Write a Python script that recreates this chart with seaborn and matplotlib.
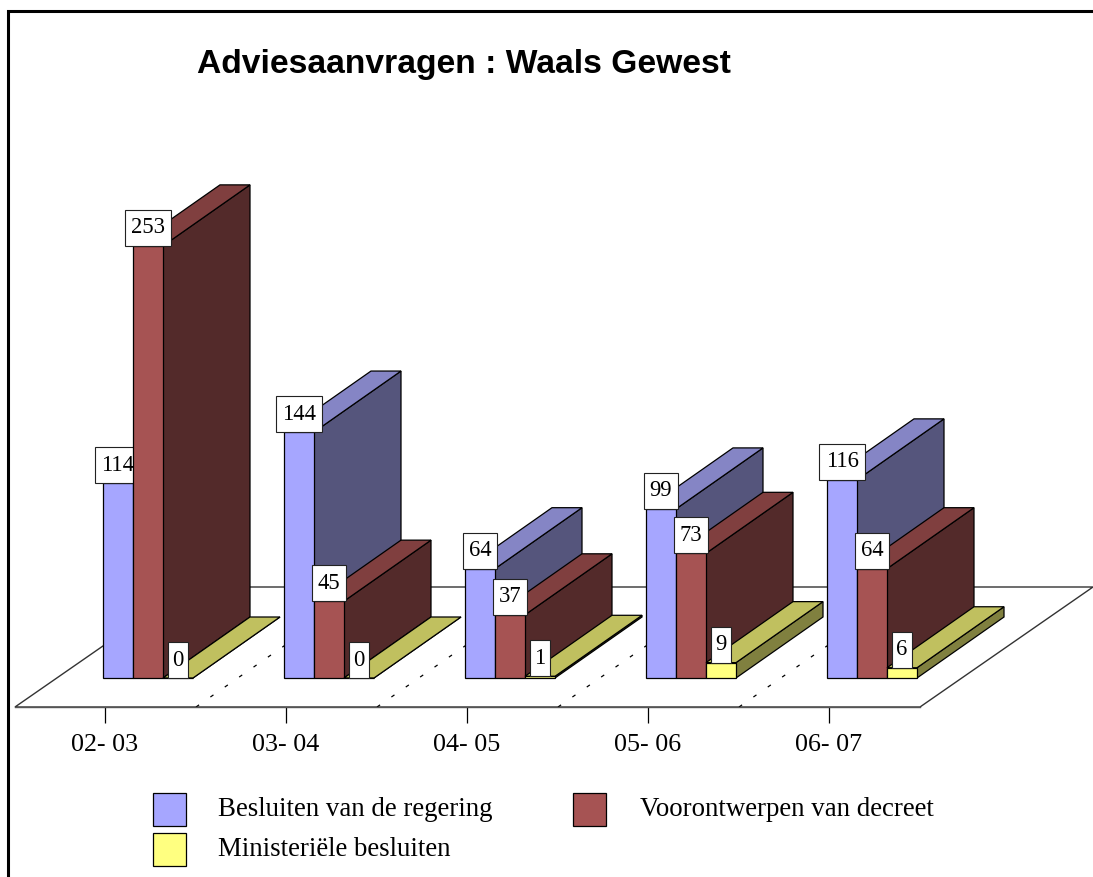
import matplotlib
matplotlib.use("Agg")
import matplotlib.pyplot as plt
from matplotlib.patches import Polygon, Rectangle
import pandas as pd
import seaborn as sns

periods = ["02- 03", "03- 04", "04- 05", "05- 06", "06- 07"]
series_names = ["Besluiten van de regering", "Voorontwerpen van decreet", "Ministeriële besluiten"]
regering = [114, 144, 64, 99, 116]
decreet = [253, 45, 37, 73, 64]
ministerieel = [0, 0, 1, 9, 6]

front_cols = ["#A6A6FF", "#A65353", "#FFFF80"]
side_cols = ["#55557C", "#532A2A", "#80803F"]
top_cols = ["#8585C5", "#803F3F", "#C0C05F"]

W, H = 1093, 877
PX_CAT = 181.0    # pixels per category
PX_VAL = 1.708    # pixels per unit
X0, Y0 = 148.0, 678.0    # where category 0 / value 0 land


def ux(px):
    return px / PX_CAT


def uy(px):
    return px / PX_VAL


df = pd.DataFrame({
    "period": periods * 3,
    "serie": [s for s in series_names for _ in periods],
    "n": regering + decreet + ministerieel,
})

sns.set_style("white")
plt.rcParams["font.family"] = ["Liberation Serif", "DejaVu Serif"]

fig = plt.figure(figsize=(W / 100, H / 100), dpi=100)
ax = fig.add_axes([0, 0, 1, 1])
ax.patch.set_alpha(0)
sns.barplot(data=df, x="period", y="n", hue="serie", hue_order=series_names, order=periods,
            palette=dict(zip(series_names, front_cols)), width=3 * 30 / PX_CAT, gap=0,
            edgecolor="black", linewidth=0.9, saturation=1, ax=ax)
ax.set_xlim(ux(-X0), ux(W - X0))
ax.set_ylim(uy(Y0 - H), uy(Y0))
ax.set_xlabel("")
ax.set_ylabel("")
ax.set_yticks([])

# floor of the fake 3d plot
dx, dy = ux(173), uy(-120)
bx, by = ux(87), uy(-61)
fl, fr = ux(15 - X0), ux(920 - X0)
fb = -uy(707 - Y0)
ax.add_patch(Polygon([(fl, fb), (fr, fb), (fr + dx, fb - dy), (fl + dx, fb - dy)],
                     closed=True, fc="white", ec="#333333", lw=1, zorder=0.5))
for i in range(1, len(periods)):
    xb = fl + i * ux(PX_CAT)
    ax.plot([xb, xb + dx], [fb, fb - dy], color="black", lw=0.9, ls=(0, (3, 11)), zorder=0.6)

# depth faces and value boxes, left to right so that nearer bars overlap
for s, cont in enumerate(ax.containers):
    for g, bar in enumerate(cont):
        x, w, h = bar.get_x(), bar.get_width(), bar.get_height()
        z = 2 + g * 10 + s
        side = [(x + w, 0), (x + w + bx, -by), (x + w + bx, h - by), (x + w, h)]
        top = [(x, h), (x + w, h), (x + w + bx, h - by), (x + bx, h - by)]
        ax.add_patch(Polygon(side, closed=True, fc=side_cols[s], ec="black", lw=0.9, zorder=z))
        ax.add_patch(Polygon(top, closed=True, fc=top_cols[s], ec="black", lw=0.9, zorder=z + 0.1))
        bar.set_zorder(z + 0.2)
        txt = str(int(h))
        bw = ux(8 + 12.8 * len(txt))
        ax.add_patch(Rectangle((x + w / 2 - bw / 2, h), bw, uy(36), fc="white", ec="#222222",
                               lw=0.8, zorder=z + 0.3))
        ax.text(x + w / 2, h + uy(20.5), txt, ha="center", va="center_baseline", fontsize=16.3,
                color="black", zorder=z + 0.4)

# category axis sits on the front edge of the floor
sns.despine(ax=ax, left=True, right=True, top=True)
ax.spines["bottom"].set_position(("data", fb))
ax.spines["bottom"].set_bounds(fl, fr)
ax.spines["bottom"].set_color("#555555")
ax.spines["bottom"].set_linewidth(1)
ax.spines["bottom"].set_zorder(1)
ax.set_xticks([i + ux(-43) for i in range(len(periods))], periods)
ax.tick_params(axis="x", bottom=True, length=11.5, width=0.9, color="black", pad=8,
               labelsize=18.7, labelcolor="black")

fig.text(463.5 / W, 1 - 64 / H, "Adviesaanvragen : Waals Gewest", family="Liberation Sans",
         weight="bold", fontsize=24.2, ha="center", va="center", color="black")

handles, labels = ax.get_legend_handles_labels()
order = [0, 2, 1]
leg = ax.legend([handles[i] for i in order], [labels[i] for i in order], ncols=2, frameon=False,
                loc="upper left", bbox_to_anchor=(148 / W, 1 - 788 / H), borderpad=0.2, borderaxespad=0,
                fontsize=19.35, handlelength=1.227, handleheight=1.51, handletextpad=1.16,
                labelspacing=0.26, columnspacing=3.0, labelcolor="black")
# text rides a little above the centre of the swatches
for t in leg.get_texts():
    t.set_position((0, 3))
leg.get_texts()[2].set_position((3, 3))

# heavy frame, runs off the right and bottom of the picture
fig.add_artist(Rectangle((7.5 / W, -0.1), 1.2, 1.1 - 11.5 / H, transform=fig.transFigure,
                         fill=False, ec="black", lw=2.2))

plt.savefig("out.png", dpi=100)
